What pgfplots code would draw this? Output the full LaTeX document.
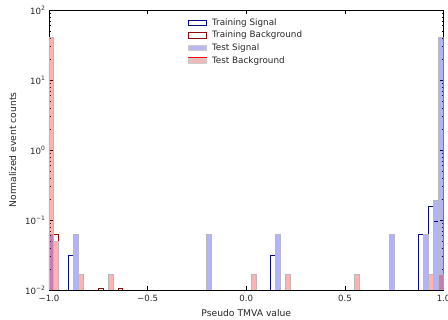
\documentclass[border=0pt]{standalone}
\usepackage{fontspec}
\setmainfont{DejaVu Sans}
\usepackage{pgfplots}
\pgfplotsset{compat=1.18}
\definecolor{trainsig}{RGB}{10,10,140}
\definecolor{trainbkg}{RGB}{140,10,10}
\definecolor{edgegray}{RGB}{185,185,185}
\begin{document}
\begin{tikzpicture}
\begin{axis}[
  scale only axis,
  width=394.6pt, height=280pt,
  xmin=-1, xmax=1,
  ymode=log, ymin=0.01, ymax=100,
  log origin y=infty,
  xtick={-1,-0.5,0,0.5,1},
  xticklabels={−1.0,−0.5,0.0,0.5,1.0},
  ytick={0.01,0.1,1,10,100},
  yticklabels={10\textsuperscript{−2},10\textsuperscript{−1},10\textsuperscript{0},10\textsuperscript{1},10\textsuperscript{2}},
  tick align=inside, tick pos=both,
  major tick length=4pt, minor tick length=2pt,
  every tick/.style={black, line width=0.5pt},
  axis line style={black, line width=0.7pt},
  tick label style={font=\fontsize{8.6}{10}\selectfont, text=black!85},
  xticklabel style={yshift=-1.5pt},
  label style={font=\fontsize{9.2}{11}\selectfont, text=black!85},
  xlabel={Pseudo TMVA value},
  ylabel={Normalized event counts},
  xlabel style={yshift=-1pt},
  ylabel style={yshift=2pt},
  legend cell align=left,
  legend style={draw=none, fill=none, at={(0.352,0.975)}, anchor=north west,
    font=\fontsize{8.8}{10}\selectfont, text=black!85, row sep=1.4pt,
    inner sep=0pt, nodes={inner sep=1.5pt}},
]
% Training signal (step outline)
\addplot[const plot, draw=trainsig, line width=1pt,
  legend image code/.code={\draw[trainsig, line width=0.9pt] (0pt,-2.6pt) rectangle (18pt,2.6pt); \path[draw=none, fill=none] (0pt,0pt) -- (22pt,0pt);}]
  coordinates {(-0.925,1e-5) (-0.9,0.03125) (-0.875,1e-5) (0.125,0.03125) (0.15,1e-5)
               (0.875,0.0625) (0.9,1e-5) (0.925,0.15625) (0.95,0.09375) (0.975,40) (1.0,40)};
\addlegendentry{Training Signal}
% Training background (step outline)
\addplot[const plot, draw=trainbkg, line width=1pt,
  legend image code/.code={\draw[trainbkg, line width=0.9pt] (0pt,-2.6pt) rectangle (18pt,2.6pt); \path[draw=none, fill=none] (0pt,0pt) -- (22pt,0pt);}]
  coordinates {(-1.0,40) (-0.975,0.0625) (-0.95,1e-5) (-0.75,0.0104) (-0.725,1e-5)
               (-0.65,0.0104) (-0.625,1e-5)};
\addlegendentry{Training Background}
% Test signal (filled)
\addplot[ybar, bar width=0.025, bar shift=0pt, fill=blue, fill opacity=0.3,
  draw=edgegray, line width=0.9pt,
  legend image code/.code={\fill[blue, fill opacity=0.3] (0pt,-2.6pt) rectangle (18pt,2.6pt); \draw[black!20, line width=0.3pt] (0pt,-2.6pt) rectangle (18pt,2.6pt); \path[draw=none, fill=none] (0pt,0pt) -- (22pt,0pt);}]
  coordinates {(-0.9875,0.0625) (-0.8625,0.0625) (-0.1875,0.0625) (0.1625,0.0625)
               (0.7375,0.0625) (0.9125,0.0625) (0.9625,0.1875) (0.9875,40)};
\addlegendentry{Test Signal}
% Test background (filled)
\addplot[ybar, bar width=0.025, bar shift=0pt, fill=red, fill opacity=0.3,
  draw=edgegray, line width=0.9pt,
  legend image code/.code={\fill[red, fill opacity=0.3] (0pt,-2.6pt) rectangle (18pt,2.6pt); \draw[black!20, line width=0.3pt] (0pt,-2.6pt) rectangle (18pt,2.6pt); \path[draw=none, fill=none] (0pt,0pt) -- (22pt,0pt);}]
  coordinates {(-0.9875,40) (-0.9625,0.05) (-0.8375,0.0167) (-0.6875,0.0167)
               (0.0375,0.0167) (0.2125,0.0167) (0.5625,0.0167) (0.9375,0.0167) (0.9875,0.0167)};
\addlegendentry{Test Background}
\end{axis}
\pgfresetboundingbox
\useasboundingbox (-49pt,-30pt) rectangle (399pt,290pt);
\end{tikzpicture}
\end{document}
